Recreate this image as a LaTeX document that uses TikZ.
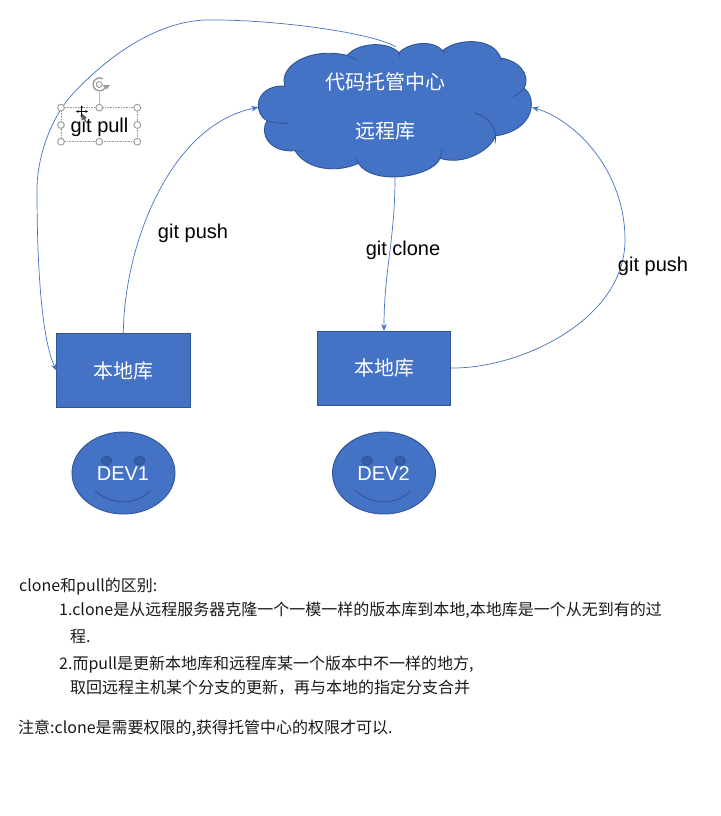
\documentclass[tikz,border=0pt]{standalone}
\usepackage{fontspec}
\setmainfont{Liberation Sans}
\newfontfamily\cjk{Noto Sans CJK SC}
\usetikzlibrary{arrows.meta,shapes.geometric}
\definecolor{boxfill}{HTML}{4472C4}
\definecolor{boxedge}{HTML}{2F5597}
\definecolor{handlegray}{HTML}{9A9A9A}
\definecolor{bodytext}{HTML}{1A1A1A}
\tikzset{
  repobox/.style={draw=boxedge,fill=boxfill,line width=0.9pt,minimum width=133.5pt,minimum height=74pt,inner sep=0pt,outer sep=0pt,text=white,font=\cjk\fontsize{20}{20}\selectfont},
  face/.style={draw=boxedge,fill=boxfill,line width=0.9pt,ellipse,minimum width=103pt,minimum height=82pt,inner sep=0pt,outer sep=0pt,text=white,font=\fontsize{20}{20}\selectfont},
  eye/.style={draw=boxedge!90!black,fill=boxedge!70!boxfill,line width=0.5pt},
  smile/.style={draw=boxedge,line width=0.8pt},
  cloudtext/.style={text=white,inner sep=0pt,font=\cjk\fontsize{20}{20}\selectfont},
  edgelabel/.style={text=black,inner sep=0pt,font=\fontsize{20}{20}\selectfont},
  flow/.style={draw=boxfill,line width=0.7pt,-{Stealth[length=7pt,width=5.5pt]}},
  crease/.style={draw=boxedge,line width=0.8pt},
  noteline/.style={anchor=base west,inner sep=0pt,text=bodytext,font=\cjk\fontsize{16}{16}\selectfont},
  handle/.style={draw=handlegray,fill=white,line width=0.9pt},
}
\begin{document}
\begin{tikzpicture}[x=1pt,y=-1pt]
\useasboundingbox[fill=white] (0,0) rectangle (720,816);

% cloud
\begin{scope}[shift={(250,30)},x=0.3333pt,y=-0.3333pt]
\draw[fill=boxfill,draw=boxedge,line width=0.9pt]
  (25,225)
  .. controls (25,190) and (60,165) .. (105,168)
  .. controls (85,110) and (175,50) .. (292,76)
  .. controls (320,40) and (410,30) .. (447,68)
  .. controls (480,35) and (550,30) .. (578,62)
  .. controls (620,25) and (730,20) .. (752,84)
  .. controls (800,90) and (845,130) .. (822,175)
  .. controls (860,200) and (860,300) .. (735,318)
  .. controls (730,350) and (650,410) .. (570,385)
  .. controls (550,440) and (370,470) .. (325,400)
  .. controls (260,430) and (170,420) .. (135,362)
  .. controls (60,370) and (25,310) .. (52,272)
  .. controls (30,262) and (25,240) .. (25,225) -- cycle;
\draw[crease] (105,168) -- (100,168);
\draw[crease] (292,76) .. controls (302,80) and (312,86) .. (320,92);
\draw[crease] (447,68) .. controls (449,73) and (450,78) .. (450,84);
\draw[crease] (578,62) -- (586,70);
\draw[crease] (752,84) -- (756,92);
\draw[crease] (822,175) .. controls (812,186) and (802,194) .. (790,200);
\draw[crease] (672,248) .. controls (710,258) and (745,290) .. (735,340);
\draw[crease] (570,385) .. controls (573,376) and (575,368) .. (575,358);
\draw[crease] (325,400) .. controls (323,395) and (321,390) .. (320,384);
\draw[crease] (135,362) .. controls (143,364) and (152,364) .. (160,362);
\draw[crease] (52,272) .. controls (72,279) and (95,281) .. (118,280);
\coordinate (cloudL) at (25,232);
\coordinate (cloudR) at (846,232);
\coordinate (cloudT) at (437,50);
\coordinate (cloudB) at (435,444);
\end{scope}

\node[cloudtext] (cloudtitle) at (385,81.5) {代码托管中心};
\node[cloudtext] (cloudsub) at (385,131) {远程库};

% repositories
\node[repobox] (repoA) at (123.3,370.7) {本地库};
\node[repobox] (repoB) at (384,368) {本地库};

% faces
\foreach \nm/\cx/\lbl in {faceA/123.5/DEV1,faceB/384/DEV2}{
  \node[face] (\nm) at (\cx,473) {};
  \draw[eye] (\cx-17,460.7) ellipse (5.5pt and 4.5pt);
  \draw[eye] (\cx+16,460.7) ellipse (5.5pt and 4.5pt);
  \draw[smile] (\cx-28.5,490.7) .. controls (\cx-12,505.5) and (\cx+12,505.5) .. (\cx+27,490.7);
  \node[text=white,inner sep=0pt,font=\fontsize{20}{20}\selectfont] (\nm text) at (\cx-0.5,474) {\lbl};
}

% connectors
\draw[flow] (repoA.north) .. controls (124,245) and (170,125) .. (cloudL);
\draw[flow] (cloudB) .. controls (395,240) and (384,270) .. (repoB.north);
\draw[flow] (repoB.east) .. controls (520,369) and (625,320) .. (625,240)
            .. controls (625,170) and (575,120) .. (cloudR);
\draw[flow] (cloudT) .. controls (370,32) and (270,19) .. (205,20)
            .. controls (155,22) and (105,58) .. (70,97)
            .. controls (52,118) and (37,155) .. (37,190)
            .. controls (37,270) and (42,340) .. (repoA.west);

% edge labels
\node[edgelabel] (lblpushA) at (193,233) {git push};
\node[edgelabel] (lblclone) at (403,250) {git clone};
\node[edgelabel] (lblpushB) at (653,266) {git push};

% selection frame around git pull
\draw[handlegray,line width=0.6pt,densely dotted] (61,107.7) rectangle (137.3,141.7);
\draw[handlegray!70,line width=1pt] (99.3,92) -- (99.3,107.7);
\foreach \hx/\hy in {61/107.7,99.3/107.7,137.3/107.7,61/125,137.3/125,61/141.7,99.3/141.7,137.3/141.7}{
  \draw[handle] (\hx,\hy) circle (3.4pt);
}
\draw[handlegray,line width=1.4pt] (106,85.5) arc[start angle=-10,end angle=-300,radius=6.5pt];
\fill[handlegray] (102.5,85) -- (110,85) -- (106.5,89.5) -- cycle;
\draw[handlegray,line width=0.9pt] (99.3,84.5) circle (3pt);
\node[edgelabel] (lblpull) at (99.5,127) {git pull};

% cursor
\draw[black,line width=0.8pt,{Stealth[length=2.5pt,width=2.5pt]}-{Stealth[length=2.5pt,width=2.5pt]}] (76,111.5) -- (88,111.5);
\draw[black,line width=0.8pt,{Stealth[length=2.5pt,width=2.5pt]}-{Stealth[length=2.5pt,width=2.5pt]}] (81.7,105.5) -- (81.7,117.5);
\fill[handlegray!60!black] (81.5,113) -- (81.5,121) -- (83.5,119) -- (85.5,122) -- (86.5,121.3) -- (85,118.5) -- (87,118) -- cycle;

% notes
\node[noteline] (n1) at (19,591) {clone和pull的区别:};
\node[noteline] (n2) at (59,615) {1.clone是从远程服务器克隆一个一模一样的版本库到本地,本地库是一个从无到有的过};
\node[noteline] (n3) at (70,642) {程.};
\node[noteline] (n4) at (59,669) {2.而pull是更新本地库和远程库某一个版本中不一样的地方,};
\node[noteline] (n5) at (70,693) {取回远程主机某个分支的更新，再与本地的指定分支合并};
\node[noteline] (n6) at (18,733) {注意:clone是需要权限的,获得托管中心的权限才可以.};
\end{tikzpicture}
\end{document}
